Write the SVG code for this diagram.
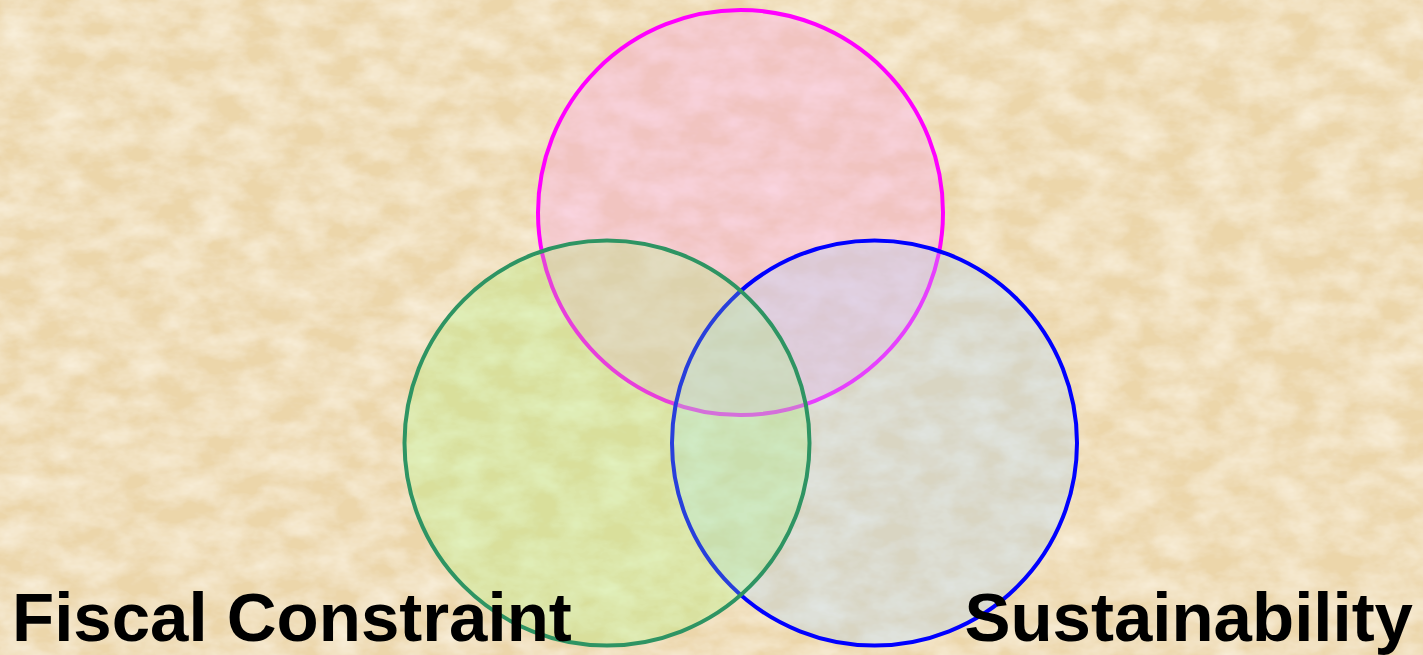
<svg xmlns="http://www.w3.org/2000/svg" width="1423" height="655" viewBox="0 0 1423 655">
<defs>
<filter id="parch" x="0" y="0" width="100%" height="100%">
<feTurbulence type="fractalNoise" baseFrequency="0.025 0.04" numOctaves="4" seed="11" result="n"/>
<feColorMatrix in="n" type="matrix" values="0 0 0 0 0.98  0 0 0 0 0.925  0 0 0 0 0.81  0 0 0 -1.6 1.15" result="c"/>
<feComposite in="c" in2="SourceGraphic" operator="over"/>
</filter>
<style>
.ring{stroke-width:4}
.lbl{font-family:"Liberation Sans",Arial,sans-serif;font-weight:bold;font-size:69px;fill:#000}
</style>
</defs>
<rect id="bg" width="1423" height="655" fill="#ecd6aa"/>
<rect width="1423" height="655" fill="#ecd6aa" filter="url(#parch)" opacity="0.75"/>
<g id="circle-top">
<circle class="ring" cx="740.5" cy="212.5" r="202.5" fill="#fca2ec" fill-opacity="0.35" stroke="#ff00ff"/>
</g>
<g id="circle-right">
<circle class="ring" cx="874.5" cy="443" r="202.5" fill="#add5fd" fill-opacity="0.3" stroke="#0000ff"/>
</g>
<g id="circle-left">
<circle class="ring" cx="607" cy="443" r="202.5" fill="#a0fd6e" fill-opacity="0.25" stroke="#2e9463"/>
</g>
<g id="connectors"/>
<g id="labels">
<text class="lbl" x="12" y="641">Fiscal Constraint</text>
<text class="lbl" x="1413" y="641" text-anchor="end">Sustainability</text>
</g>
</svg>
